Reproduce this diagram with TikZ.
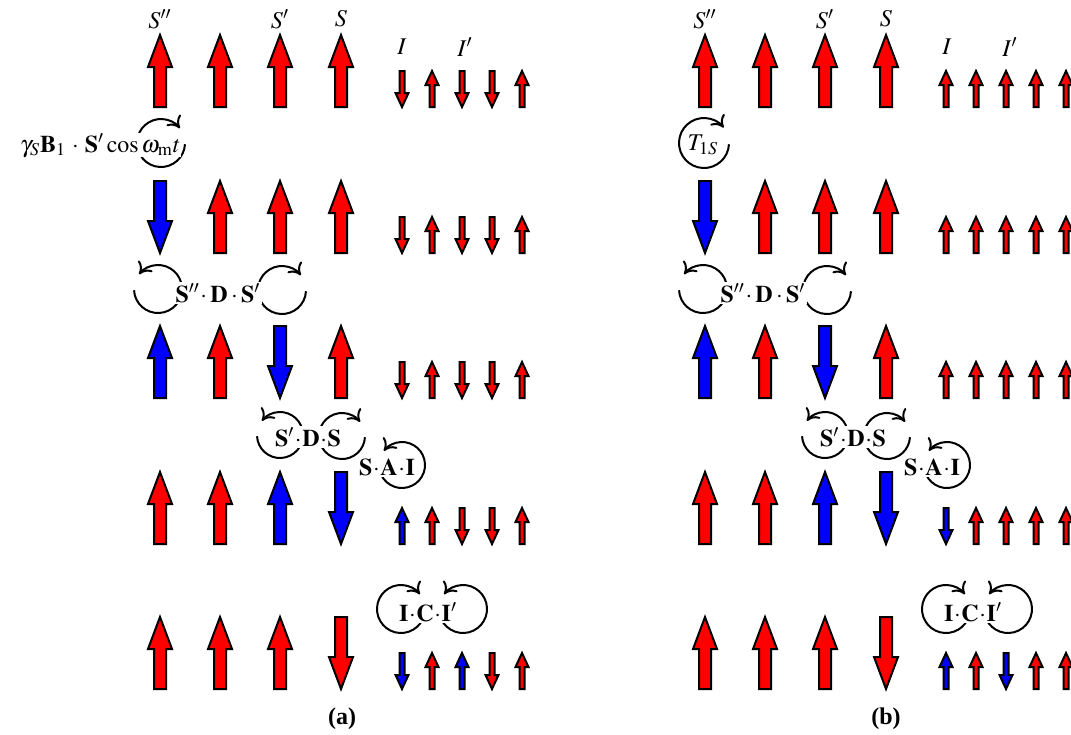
\documentclass[tikz,border=0pt]{standalone}
\usepackage{amsmath}
\usepackage{mathptmx}
\usepackage{fontspec}
\setmainfont{Liberation Serif}
\usetikzlibrary{arrows.meta}

\tikzset{
  spinline/.style={draw=black,line width=1pt,line join=miter},
  loopline/.style={line width=1pt,-{Computer Modern Rightarrow[length=5.5pt,width=9pt]}},
  term/.style={fill=white,inner sep=0.6pt},
}

\newcommand{\spin}[8]{%
  \pgfmathsetmacro{\spinbase}{#2-#5*(1+#3)/2}%
  \pgfmathsetmacro{\spintip}{\spinbase+#3*#5}%
  \pgfmathsetmacro{\spinneck}{\spinbase+#3*(#5-#8)}%
  \filldraw[spinline,fill=#4] (#1,\spintip) -- ({#1+#7},\spinneck) -- ({#1+#6},\spinneck)
    -- ({#1+#6},\spinbase) -- ({#1-#6},\spinbase) -- ({#1-#6},\spinneck) -- ({#1-#7},\spinneck) -- cycle;}
\newcommand{\bigspin}[4]{\spin{#1}{#2}{#3}{#4}{72}{6}{12}{32}}
\newcommand{\smallspin}[4]{\spin{#1}{#2}{#3}{#4}{36}{2.5}{6.5}{14}}
\newcommand{\cwloop}[2]{\draw[loopline] ([shift={(3:#2)}]#1) arc[start angle=3,end angle=322,radius=#2];}
\newcommand{\ccwloop}[2]{\draw[loopline] ([shift={(177:#2)}]#1) arc[start angle=177,end angle=-142,radius=#2];}

\begin{document}
\begin{tikzpicture}[x=0.5pt,y=-0.5pt,font=\fontsize{12}{14}\selectfont]
\useasboundingbox (0,0) rectangle (1071,734);

\foreach \dx in {0,545} {
  \foreach \x/\c/\d in {160/red/-1,220/red/-1,280/red/-1,341/red/-1}
    {\bigspin{\x+\dx}{107}{\d}{\c}}
  \foreach \x/\c/\d in {160/blue/1,220/red/-1,280/red/-1,341/red/-1}
    {\bigspin{\x+\dx}{253}{\d}{\c}}
  \foreach \x/\c/\d in {160/blue/-1,220/red/-1,280/blue/1,341/red/-1}
    {\bigspin{\x+\dx}{398}{\d}{\c}}
  \foreach \x/\c/\d in {160/red/-1,220/red/-1,280/blue/-1,341/blue/1}
    {\bigspin{\x+\dx}{544}{\d}{\c}}
  \foreach \x/\c/\d in {160/red/-1,220/red/-1,280/red/-1,341/red/1}
    {\bigspin{\x+\dx}{689}{\d}{\c}}
}

\foreach \y in {107,253,398}
  \foreach \x/\c/\d in {402/red/1,432/red/-1,462/red/1,492/red/1,522/red/-1}
    {\smallspin{\x}{\y}{\d}{\c}}
\foreach \x/\c/\d in {402/blue/-1,432/red/-1,462/red/1,492/red/1,522/red/-1}
  {\smallspin{\x}{544}{\d}{\c}}
\foreach \x/\c/\d in {402/blue/1,432/red/-1,462/blue/-1,492/red/1,522/red/-1}
  {\smallspin{\x}{689}{\d}{\c}}

\foreach \y in {107,253,398}
  \foreach \x in {946,976,1006,1036,1066}
    {\smallspin{\x}{\y}{-1}{red}}
\foreach \x/\c/\d in {946/blue/1,976/red/-1,1006/red/-1,1036/red/-1,1066/red/-1}
  {\smallspin{\x}{544}{\d}{\c}}
\foreach \x/\c/\d in {946/blue/-1,976/red/-1,1006/blue/1,1036/red/-1,1066/red/-1}
  {\smallspin{\x}{689}{\d}{\c}}

\coordinate (gam) at (161,143);
\coordinate (tone) at (704,143);
\coordinate (dipAl) at (158,289);
\coordinate (dipAr) at (282,290);
\coordinate (dipBl) at (703,289);
\coordinate (dipBr) at (827,290);
\coordinate (sdsAl) at (280,435);
\coordinate (sdsAr) at (342,436);
\coordinate (sdsBl) at (825,435);
\coordinate (sdsBr) at (887,436);
\coordinate (hypA) at (402,465);
\coordinate (hypB) at (947,465);
\coordinate (iciAl) at (401,609);
\coordinate (iciAr) at (463,609);
\coordinate (iciBl) at (946,609);
\coordinate (iciBr) at (1008,609);

\cwloop{gam}{24}
\cwloop{tone}{25}
\ccwloop{dipAl}{24}
\cwloop{dipAr}{24}
\ccwloop{dipBl}{24}
\cwloop{dipBr}{24}
\ccwloop{sdsAl}{23}
\cwloop{sdsAr}{23}
\ccwloop{sdsBl}{23}
\cwloop{sdsBr}{23}
\ccwloop{hypA}{23}
\ccwloop{hypB}{23}
\cwloop{iciAl}{24}
\ccwloop{iciAr}{24}
\cwloop{iciBl}{24}
\ccwloop{iciBr}{24}

\node (sddA) at (160,19) {$S''$};
\node (sdA)  at (280,19) {$S'$};
\node (sA)   at (341,19) {$S$};
\node (iA)   at (402,47) {$I$};
\node (idA)  at (465,47) {$I'$};
\node (sddB) at (705,19) {$S''$};
\node (sdB)  at (825,19) {$S'$};
\node (sB)   at (886,19) {$S$};
\node (iB)   at (947,47) {$I$};
\node (idB)  at (1010,47) {$I'$};

\node[term,inner sep=0pt,anchor=base east] (zeeA) at (181,152) {$\gamma_S\mathbf{B}_1\,\cdot\,\mathbf{S}'\cos\omega_{\mathrm{m}}t$};
\node[term] (relB) at (703,145) {$T_{1S}$};
\node[term] (dipA) at (218,293) {$\mathbf{S}''\!\cdot\mathbf{D}\cdot\mathbf{S}'$};
\node[term] (dipB) at (763,293) {$\mathbf{S}''\!\cdot\mathbf{D}\cdot\mathbf{S}'$};
\node[term] (sdsA) at (308,437) {$\mathbf{S}'\!\cdot\!\mathbf{D}\!\cdot\!\mathbf{S}$};
\node[term] (sdsB) at (853,437) {$\mathbf{S}'\!\cdot\!\mathbf{D}\!\cdot\!\mathbf{S}$};
\node[term] (hyA) at (387,467) {$\mathbf{S}\!\cdot\!\mathbf{A}\!\cdot\!\mathbf{I}$};
\node[term] (hyB) at (932,467) {$\mathbf{S}\!\cdot\!\mathbf{A}\!\cdot\!\mathbf{I}$};
\node[term] (iciA) at (428,612) {$\mathbf{I}\!\cdot\!\mathbf{C}\!\cdot\!\mathbf{I}'$};
\node[term] (iciB) at (973,612) {$\mathbf{I}\!\cdot\!\mathbf{C}\!\cdot\!\mathbf{I}'$};

\node (capA) at (342,719) {\textbf{(a)}};
\node (capB) at (886,719) {\textbf{(b)}};
\end{tikzpicture}
\end{document}
